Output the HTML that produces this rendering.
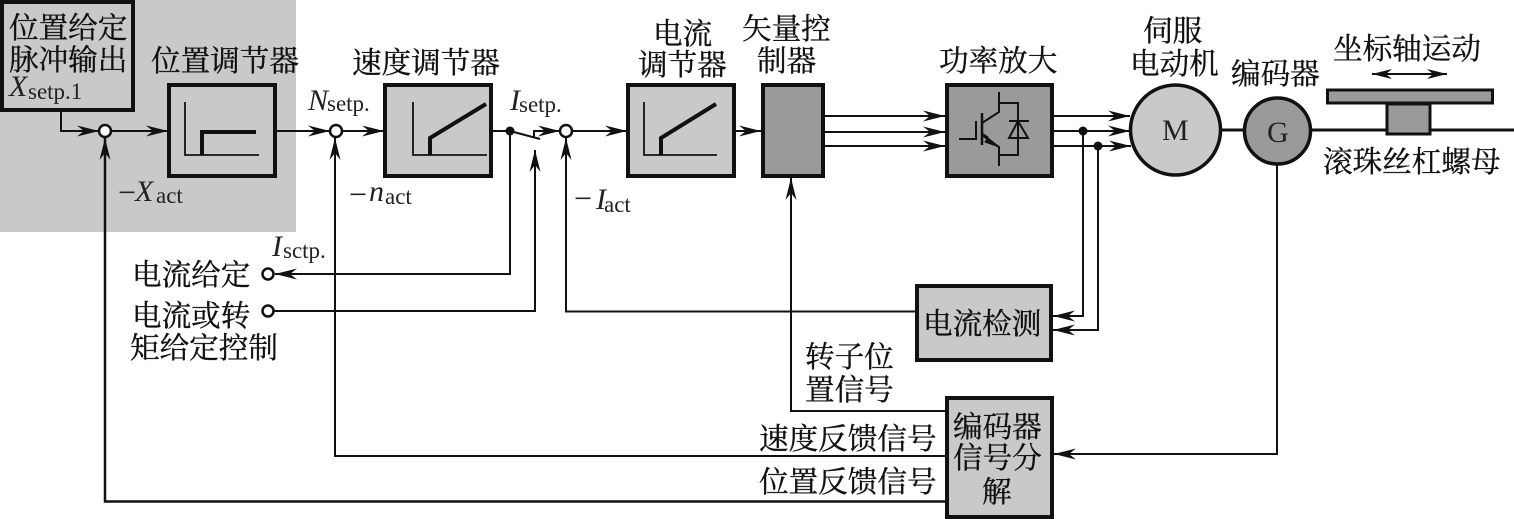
<!DOCTYPE html>
<html><head><meta charset="utf-8"><style>
html,body{margin:0;padding:0;background:#fff}
svg{display:block}
.c{font-family:"Liberation Serif","Noto Serif CJK SC",serif;font-size:29.600px;fill:#111;stroke:#111;stroke-width:.35px}
.i{font-family:"Liberation Serif",serif;font-style:italic;font-size:30px;fill:#222}
.s{font-family:"Liberation Serif",serif;font-size:23px;fill:#222}
.l{fill:none;stroke:#111;stroke-width:2}
.b{stroke:#111;stroke-width:4}
</style></head><body>
<svg width="1514" height="519" viewBox="0 0 1514 519" xmlns="http://www.w3.org/2000/svg">
<defs>
<marker id="a" markerUnits="userSpaceOnUse" markerWidth="24" markerHeight="14" refX="22" refY="7" orient="auto" overflow="visible"><path d="M22,7 L0,1.500 L7,7 L0,12.500 Z" fill="#111"/></marker>
</defs>
<rect x="0" y="0" width="296" height="232" fill="#c9c9c9"/>

<!-- connectors -->
<g class="l">
<path d="M61,110V131H99" marker-end="url(#a)"/>
<path d="M111,131H168" marker-end="url(#a)"/>
<path d="M275,131H330" marker-end="url(#a)"/>
<path d="M342,131H384" marker-end="url(#a)"/>
<path d="M492,131H510"/>
<path d="M510,131L540,139"/>
<path d="M534,137V131H560" marker-end="url(#a)"/>
<path d="M572,131H627" marker-end="url(#a)"/>
<path d="M735,131H761" marker-end="url(#a)"/>
<path d="M824,116H945" marker-end="url(#a)"/>
<path d="M824,132H945" marker-end="url(#a)"/>
<path d="M824,146H945" marker-end="url(#a)"/>
<path d="M1053,116H1130" marker-end="url(#a)"/>
<path d="M1053,131H1130" marker-end="url(#a)"/>
<path d="M1053,146H1131" marker-end="url(#a)"/>
<path d="M1083,131V316H1053" marker-end="url(#a)"/>
<path d="M1098,146V330H1053" marker-end="url(#a)"/>
<path d="M510,131V274H275" marker-end="url(#a)"/>
<path d="M274,311H535V150" marker-end="url(#a)"/>
<path d="M915,311.500H566V138" marker-end="url(#a)"/>
<path d="M945,411H791V178" marker-end="url(#a)"/>
<path d="M945,456H335V138" marker-end="url(#a)"/>
<path d="M945,501.500H105V138" marker-end="url(#a)" stroke-width="2.500"/>
<path d="M1277,165V454H1054" marker-end="url(#a)"/>
<path d="M1372,74H1447"/>
<path d="M1372,74l20,-5l-6,5l6,5zM1447,74l-20,-5l6,5l-6,5z" fill="#111" stroke="none"/>
</g>

<!-- boxes -->
<g class="b">
<rect x="2" y="2" width="131" height="108" fill="#c9c9c9"/>
<rect x="169" y="85" width="106" height="91" fill="#c9c9c9"/>
<rect x="385" y="85" width="106" height="91" fill="#c9c9c9"/>
<rect x="628" y="85" width="106" height="91" fill="#c9c9c9"/>
<rect x="763" y="85" width="60" height="91" fill="#9a9a9a"/>
<rect x="947" y="85" width="105" height="91" fill="#9a9a9a"/>
<rect x="917" y="286" width="134" height="74" fill="#c9c9c9"/>
<rect x="947" y="398" width="105" height="119" fill="#c9c9c9"/>
</g>

<!-- regulators -->
<g fill="none" stroke="#111">
<path d="M185,102V155H259M413,102V155H487M644,102V155H717" stroke-width="1.800"/>
<path d="M202,155V132H256" stroke-width="4"/>
<path d="M430,155V138L486,104" stroke-width="4"/>
<path d="M661,155V138L716,104" stroke-width="4"/>
</g>

<!-- IGBT -->
<g fill="none" stroke="#111" stroke-width="2">
<path d="M959,139H976V121"/>
<path d="M982,113V145" stroke-width="2.500"/>
<path d="M982,123L999,112V92M982,135L999,147V166"/>
<path d="M999,103H1018V155H999"/>
<path d="M1009,121H1029M1018,121L1009,138H1028Z"/>
</g>
<path d="M999,147L982,133L988,137L985,142Z" fill="#111" stroke="#111"/>

<!-- summing nodes -->
<g fill="#fff" stroke="#111" stroke-width="2.500">
<circle cx="105" cy="131" r="6"/>
<circle cx="336" cy="131" r="6"/>
<circle cx="566" cy="131" r="6"/>
<circle cx="268" cy="274" r="5.500"/>
<circle cx="268" cy="311" r="5.500"/>
</g>
<g fill="#111">
<circle cx="510" cy="131" r="4.500"/>
<circle cx="1083" cy="131" r="4.500"/>
<circle cx="1098" cy="146" r="4.500"/>
</g>

<!-- motor section -->
<path d="M1222,130H1244" stroke="#111" stroke-width="3"/>
<path d="M1310,130H1514" stroke="#111" stroke-width="3"/>
<circle cx="1175.500" cy="130" r="45" fill="#c9c9c9" stroke="#111" stroke-width="3.500"/>
<circle cx="1277.500" cy="131" r="33" fill="#9a9a9a" stroke="#111" stroke-width="3.500"/>
<rect x="1327.500" y="90" width="165" height="13" fill="#9a9a9a" stroke="#111" stroke-width="3"/>
<rect x="1387" y="104" width="43" height="30" fill="#9a9a9a" stroke="#111" stroke-width="3"/>
<text class="i" style="font-style:normal" x="1162" y="140">M</text>
<text class="i" style="font-style:normal" x="1267" y="142">G</text>

<!-- CJK labels -->
<g class="c">
<text x="9" y="38">位置给定</text>
<text x="9" y="70">脉冲输出</text>
<text x="151" y="71">位置调节器</text>
<text x="352" y="73">速度调节器</text>
<text x="653" y="44">电流</text>
<text x="638" y="75">调节器</text>
<text x="742" y="39">矢量控</text>
<text x="757" y="71">制器</text>
<text x="939" y="71">功率放大</text>
<text x="1143" y="41">伺服</text>
<text x="1130" y="74">电动机</text>
<text x="1231" y="84">编码器</text>
<text x="1333" y="59">坐标轴运动</text>
<text x="1323" y="172">滚珠丝杠螺母</text>
<text x="132" y="285">电流给定</text>
<text x="132" y="326">电流或转</text>
<text x="130" y="358">矩给定控制</text>
<text x="923" y="334">电流检测</text>
<text x="805" y="367">转子位</text>
<text x="805" y="400">置信号</text>
<text x="759" y="449">速度反馈信号</text>
<text x="759" y="492">位置反馈信号</text>
<text x="953" y="437">编码器</text>
<text x="953" y="468">信号分</text>
<text x="982" y="502">解</text>
</g>

<!-- math labels -->
<text class="i" x="9" y="96">X</text><text class="s" x="28" y="99">setp.1</text>
<text class="i" x="308" y="110">N</text><text class="s" x="327" y="111">setp.</text>
<text class="i" x="510" y="110">I</text><text class="s" x="519" y="112">setp.</text>
<text class="i" x="272" y="256">I</text><text class="s" x="283" y="258">sctp.</text>
<text class="s" style="font-size:32px" x="118" y="203">−</text><text class="i" x="135" y="201">X</text><text class="s" x="156" y="203">act</text>
<text class="s" style="font-size:32px" x="349" y="205">−</text><text class="i" x="369" y="201">n</text><text class="s" x="385" y="204">act</text>
<text class="s" style="font-size:32px" x="574" y="209">−</text><text class="i" x="596" y="209">I</text><text class="s" x="604" y="212">act</text>
</svg>
</body></html>
